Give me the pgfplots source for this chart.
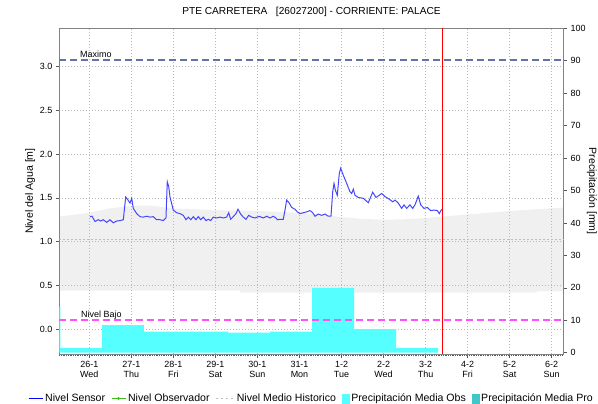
\documentclass[border=0pt]{standalone}
\usepackage{fontspec}
\setmainfont{Liberation Sans}
\usepackage{pgfplots}
\pgfplotsset{compat=1.18}
\definecolor{bandgray}{RGB}{240,240,240}
\definecolor{precip}{RGB}{85,255,255}
\definecolor{precippro}{RGB}{64,200,200}
\definecolor{sensor}{RGB}{70,70,255}
\definecolor{maxline}{RGB}{100,115,165}
\definecolor{bajo}{RGB}{255,80,255}
\definecolor{gridc}{RGB}{185,185,185}
\definecolor{axisc}{RGB}{130,130,130}
\definecolor{obsc}{RGB}{60,190,20}
\definecolor{histc}{RGB}{190,190,190}
\pgfplotsset{
  base/.style={scale only axis, width=504.4bp, height=325.7bp,
    at={(0bp,0bp)}, anchor=south west, xmin=-0.7136, xmax=11.285},
}
\begin{document}
\begin{tikzpicture}
% ---------- axis 1: left scale, grid, historic band ----------
\begin{axis}[base, ymin=-0.286, ymax=3.44, axis on top,
  axis line style={axisc, line width=0.8bp},
  xtick={0,1,...,11},
  xticklabels={{26-1\\Wed},{27-1\\Thu},{28-1\\Fri},{29-1\\Sat},{30-1\\Sun},{31-1\\Mon},{1-2\\Tue},{2-2\\Wed},{3-2\\Thu},{4-2\\Fri},{5-2\\Sat},{6-2\\Sun}},
  xticklabel style={align=center, font=\fontsize{9}{10}\selectfont},
  minor xtick={-0.70833,-0.66667,...,11.27},
  ytick={0,0.5,1,1.5,2,2.5,3},
  ytick pos=left, xtick pos=bottom,
  yticklabel style={/pgf/number format/fixed, /pgf/number format/fixed zerofill, /pgf/number format/precision=1, font=\fontsize{9}{10}\selectfont},
  /pgf/number format/assume math mode=true,
  tick align=outside, major tick length=3.5bp, minor tick length=2bp,
  tick style={black!65, line width=0.6bp},
  grid=major, major grid style={gridc, dash pattern=on 1bp off 2bp, line width=0.7bp},
  ylabel={Nivel del Agua [m]},
  ylabel style={at={(axis description cs:-0.058,0.5)}, anchor=center, font=\fontsize{10.6}{12}\selectfont},
  title={PTE CARRETERA\ \ \ [26027200] - CORRIENTE: PALACE},
  title style={at={(axis description cs:0.5,1)}, anchor=base, yshift=8.3bp, font=\fontsize{10.2}{12}\selectfont},
]
\addplot[fill=bandgray, draw=none] coordinates {
(-0.7136,1.285) (0,1.33) (0.5,1.38) (1,1.41) (1.5,1.41) (2,1.38) (3,1.36) (4,1.35) (5,1.33) (5.5,1.31) (6,1.28) (6.5,1.26) (7,1.25) (7.5,1.255) (8,1.27) (8.5,1.29) (9,1.31) (10,1.35) (11.285,1.39)
(11.285,0.43) (10.64,0.43) (10.64,0.415) (3.59,0.415) (3.59,0.44) (-0.7136,0.44)
} -- cycle;
\end{axis}
% ---------- axis 2: precipitation (right scale) ----------
\begin{axis}[base, ymin=-0.4, ymax=100,
  axis y line*=right, axis x line=none,
  axis line style={axisc, line width=0.8bp},
  ytick={0,10,...,100},
  yticklabel style={font=\fontsize{9}{10}\selectfont},
  /pgf/number format/assume math mode=true,
  tick align=outside, major tick length=3.5bp,
  tick style={black!65, line width=0.6bp},
  ylabel={Precipitación [mm]},
  ylabel style={at={(axis description cs:1.056,0.5)}, anchor=center, rotate=180, font=\fontsize{10.6}{12}\selectfont},
]
\addplot[const plot, fill=precip, draw=none] coordinates {
(-1.7,14.1) (-0.69,1.45) (0.3,8.5) (1.3,6.5) (2.3,6.5) (3.3,6.2) (4.3,6.5) (5.3,20.0) (6.3,7.3) (7.3,1.45) (8.3,0)
} \closedcycle;
\end{axis}
% ---------- axis 3: level lines ----------
\begin{axis}[base, ymin=-0.286, ymax=3.44, hide axis]
\addplot[histc, line width=1.4bp, dash pattern=on 2bp off 2bp] coordinates {(-0.7136,1.022) (11.285,1.022)};
\addplot[maxline, line width=1.8bp, dash pattern=on 7bp off 4bp] coordinates {(-0.7136,3.078) (11.285,3.078)};
\addplot[bajo, line width=1.8bp, dash pattern=on 7bp off 4bp] coordinates {(-0.7136,0.107) (11.285,0.107)};
\addplot[sensor, line width=1bp] coordinates {
(0.017,1.285) (0.064,1.29) (0.136,1.23) (0.214,1.25) (0.271,1.235) (0.333,1.25) (0.414,1.22) (0.492,1.25) (0.571,1.215) (0.652,1.235) (0.730,1.24) (0.809,1.25)
(0.833,1.36) (0.866,1.51) (0.928,1.47) (0.968,1.44) (1.009,1.495) (1.047,1.38) (1.127,1.32) (1.206,1.285) (1.284,1.28) (1.365,1.29) (1.444,1.28) (1.522,1.285)
(1.603,1.25) (1.682,1.25) (1.760,1.24) (1.824,1.27) (1.855,1.685) (1.889,1.63) (1.920,1.51) (1.998,1.36) (2.079,1.33) (2.157,1.32) (2.236,1.30) (2.300,1.25)
(2.355,1.28) (2.412,1.25) (2.474,1.285) (2.538,1.25) (2.593,1.285) (2.650,1.25) (2.712,1.28) (2.776,1.24) (2.831,1.255) (2.888,1.24) (2.950,1.28) (3.030,1.27)
(3.109,1.28) (3.187,1.27) (3.268,1.28) (3.316,1.33) (3.363,1.255) (3.425,1.285) (3.490,1.32) (3.537,1.37) (3.601,1.315) (3.663,1.28) (3.727,1.255) (3.792,1.30)
(3.863,1.28) (3.942,1.27) (4.020,1.285) (4.060,1.285) (4.141,1.27) (4.220,1.29) (4.298,1.27) (4.377,1.29) (4.441,1.27) (4.472,1.25) (4.536,1.255) (4.615,1.255)
(4.655,1.36) (4.695,1.475) (4.757,1.44) (4.815,1.39) (4.893,1.37) (4.948,1.34) (5.012,1.32) (5.090,1.33) (5.171,1.34) (5.250,1.355) (5.314,1.33) (5.369,1.29)
(5.447,1.315) (5.528,1.30) (5.607,1.315) (5.685,1.29) (5.749,1.29) (5.790,1.57) (5.821,1.665) (5.852,1.59) (5.899,1.53) (5.947,1.78) (5.980,1.84) (6.042,1.76)
(6.123,1.665) (6.201,1.57) (6.242,1.55) (6.280,1.60) (6.320,1.53) (6.399,1.505) (6.518,1.495) (6.637,1.445) (6.741,1.565) (6.820,1.505) (6.898,1.53) (6.955,1.55)
(7.034,1.515) (7.136,1.485) (7.217,1.455) (7.272,1.475) (7.350,1.44) (7.431,1.38) (7.486,1.42) (7.550,1.38) (7.628,1.42) (7.693,1.38) (7.747,1.42) (7.826,1.52)
(7.883,1.42) (7.962,1.38) (8.040,1.39) (8.121,1.355) (8.199,1.36) (8.278,1.355) (8.325,1.32) (8.382,1.37)
};
\addplot[red, line width=1.2bp] coordinates {(8.40,-0.286) (8.40,3.44)};
\node[anchor=base west, inner sep=0pt, font=\fontsize{9}{10}\selectfont] at (axis cs:-0.221,3.109) {Maximo};
\node[anchor=base west, inner sep=0pt, font=\fontsize{9}{10}\selectfont] at (axis cs:-0.197,0.126) {Nivel Bajo};
\end{axis}
% ---------- axis 4: legend only ----------
\begin{axis}[base, ymin=0, ymax=1, hide axis,
  legend columns=-1,
  legend style={draw=none, fill=none, inner sep=0pt, at={(-0.062,-0.1366)}, anchor=west,
    font=\fontsize{10.6}{12}\selectfont,
    /tikz/every odd column/.append style={column sep=0bp},
    /tikz/every even column/.append style={column sep=4bp}},
]
\addlegendimage{legend image code/.code={\draw[blue, line width=1bp] (0bp,0bp) -- (14bp,0bp);}}
\addlegendentry{Nivel Sensor}
\addlegendimage{legend image code/.code={\draw[obsc, line width=1bp] (0bp,0bp) -- (14bp,0bp); \fill[obsc] (7bp,0bp) circle (1.3bp);}}
\addlegendentry{Nivel Observador}
\addlegendimage{legend image code/.code={\draw[histc, line width=1.2bp, dash pattern=on 2bp off 3bp] (0bp,0bp) -- (18bp,0bp);}}
\addlegendentry{Nivel Medio Historico}
\addlegendimage{legend image code/.code={\fill[precip] (0bp,-4.5bp) rectangle (7bp,4.5bp);}}
\addlegendentry{Precipitación Media Obs}
\addlegendimage{legend image code/.code={\fill[precippro] (0bp,-4.5bp) rectangle (7bp,4.5bp);}}
\addlegendentry{Precipitación Media Pro}
\end{axis}
\pgfresetboundingbox
\path[use as bounding box] (-59.3bp,-50bp) rectangle (538.7bp,354bp);
\end{tikzpicture}
\end{document}
